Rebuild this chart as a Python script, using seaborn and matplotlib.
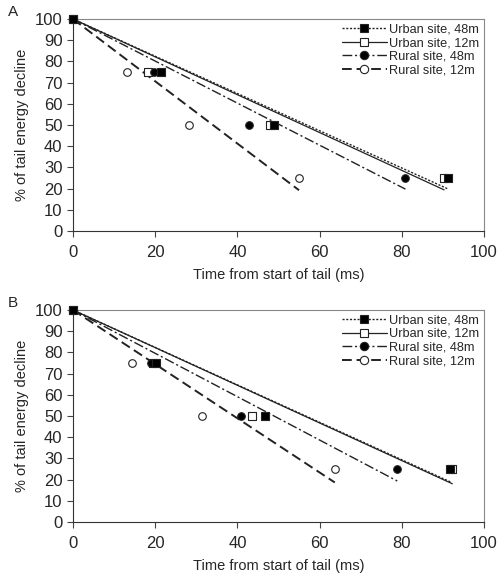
import numpy as np
import pandas as pd
import seaborn as sns
import matplotlib.pyplot as plt
from matplotlib.lines import Line2D

# % of tail energy remaining at each time point
decline = [100, 75, 50, 25]

# panel A: time (ms) at which each level is reached
a_urban48 = [0, 21.3, 49.0, 91.3]
a_urban12 = [0, 18.3, 47.9, 90.3]
a_rural48 = [0, 19.8, 42.9, 80.9]
a_rural12 = [0, 13.1, 28.2, 55.0]

# panel B
b_urban48 = [0, 20.2, 46.7, 91.8]
b_urban12 = [0, 19.5, 43.6, 92.3]
b_rural48 = [0, 18.9, 40.8, 78.9]
b_rural12 = [0, 14.3, 31.5, 63.7]

labels = ['Urban site, 48m', 'Urban site, 12m', 'Rural site, 48m', 'Rural site, 12m']

# style per series: marker, face colour, line style, line width
styles = {
    'Urban site, 48m': dict(marker='s', face='black', ls=(0, (1.5, 1.2)), lw=1.0),
    'Urban site, 12m': dict(marker='s', face='white', ls='-', lw=0.9),
    'Rural site, 48m': dict(marker='o', face='black', ls=(0, (7, 2, 1.5, 2)), lw=1.0),
    'Rural site, 12m': dict(marker='o', face='white', ls=(0, (5, 2.5)), lw=1.4),
}

sns.set_style("ticks")
plt.rcParams['font.family'] = ['Liberation Sans', 'DejaVu Sans']

fig = plt.figure(figsize=(5.01, 5.83), dpi=100)
ax_a = fig.add_axes([0.1457, 0.6038, 0.8203, 0.3636])
ax_b = fig.add_axes([0.1457, 0.1046, 0.8203, 0.3637])


def draw_panel(ax, times, letter):
    # open symbols first so the filled ones sit on top
    order = [1, 3, 2, 0]
    for i in order:
        lab = labels[i]
        st = styles[lab]
        t = np.array(times[i], dtype=float)
        y = np.array(decline, dtype=float)
        # decline fitted through (0, 100)
        slope = np.sum(t * (y - 100)) / np.sum(t ** 2)
        fit = pd.DataFrame({'t': [0, t.max()], 'y': [100, 100 + slope * t.max()]})
        sns.lineplot(data=fit, x='t', y='y', ax=ax, color='#222222',
                     linestyle=st['ls'], linewidth=st['lw'], clip_on=False)
    for i in order:
        lab = labels[i]
        st = styles[lab]
        pts = pd.DataFrame({'t': times[i], 'y': decline})
        sns.scatterplot(data=pts, x='t', y='y', ax=ax, marker=st['marker'],
                        color=st['face'], edgecolor='#222222', linewidth=0.8,
                        s=30, zorder=5, clip_on=False)

    ax.set_xlim(0, 100)
    ax.set_ylim(0, 100)
    ax.set_xticks(range(0, 101, 20))
    ax.set_yticks(range(0, 101, 10))
    ax.tick_params(labelsize=12, length=4, width=0.8, color='#444444')
    ax.tick_params(axis='x', pad=6)
    ax.set_xlabel('Time from start of tail (ms)', fontsize=10.5, labelpad=6)
    ax.set_ylabel('% of tail energy decline', fontsize=10.5, labelpad=4)
    for side in ['left', 'bottom']:
        ax.spines[side].set_color('#333333')
        ax.spines[side].set_linewidth(0.8)
    for side in ['top', 'right']:
        ax.spines[side].set_visible(True)
        ax.spines[side].set_color('#888888')
        ax.spines[side].set_linewidth(0.8)

    handles = []
    for lab in labels:
        st = styles[lab]
        handles.append(Line2D([0], [0], color='#222222', linestyle=st['ls'],
                              linewidth=st['lw'], marker=st['marker'],
                              markerfacecolor=st['face'], markeredgecolor='#222222',
                              markersize=6, markeredgewidth=0.8))
    ax.legend(handles, labels, loc='upper right', frameon=False, fontsize=9.2,
              handlelength=3.5, handletextpad=0.2, labelspacing=0.12,
              borderaxespad=0.1, borderpad=0.25)
    fig.text(0.016, ax.get_position().y1 + 0.012, letter, fontsize=11, va='center')


draw_panel(ax_a, [a_urban48, a_urban12, a_rural48, a_rural12], 'A')
draw_panel(ax_b, [b_urban48, b_urban12, b_rural48, b_rural12], 'B')

fig.savefig('out.png', dpi=100)
